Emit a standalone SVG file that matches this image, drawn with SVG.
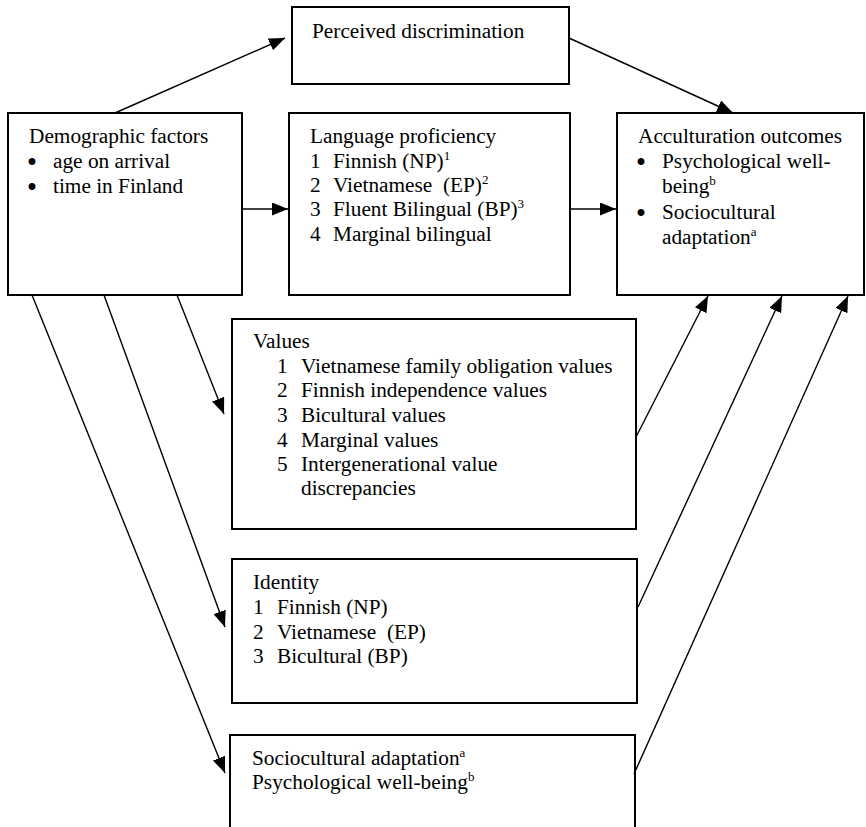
<svg xmlns="http://www.w3.org/2000/svg" width="866" height="827" viewBox="0 0 866 827">
<style>
.box{fill:#fff;stroke:#000;stroke-width:2}
.t{font-family:"Liberation Serif","Times New Roman",serif;font-size:21.3px;fill:#000}
.b{font-family:"Liberation Serif","Times New Roman",serif;font-size:21.3px;fill:#000;stroke:#000;stroke-width:1.8;text-anchor:middle}
.sup{font-size:13px}
.c line{stroke:#000;stroke-width:1.4;marker-end:url(#ah)}
</style>
<defs>
<marker id="ah" markerUnits="userSpaceOnUse" markerWidth="16" markerHeight="13" refX="16" refY="6.5" orient="auto">
<path d="M0,0 L16,6.5 L0,13 Z" fill="#000"/>
</marker>
</defs>
<rect width="866" height="827" fill="#fff"/>
<g id="perceived">
<rect class="box" x="292" y="7" width="277" height="77"/>
<text class="t" x="312" y="38">Perceived discrimination</text>
</g>
<g id="demographic">
<rect class="box" x="8" y="113" width="234" height="182"/>
<text class="t" x="29" y="143">Demographic factors</text>
<text class="b" x="32" y="169">•</text>
<text class="t" x="53" y="168">age on arrival</text>
<text class="b" x="32" y="194">•</text>
<text class="t" x="53" y="193">time in Finland</text>
</g>
<g id="language">
<rect class="box" x="289" y="113" width="281" height="182"/>
<text class="t" x="310" y="143">Language proficiency</text>
<text class="t" x="310" y="168">1</text><text class="t" x="333" y="168">Finnish (NP)<tspan class="sup" dy="-8">1</tspan></text>
<text class="t" x="310" y="192">2</text><text class="t" x="333" y="192" xml:space="preserve">Vietnamese  (EP)<tspan class="sup" dy="-8">2</tspan></text>
<text class="t" x="310" y="216">3</text><text class="t" x="333" y="216">Fluent Bilingual (BP)<tspan class="sup" dy="-8">3</tspan></text>
<text class="t" x="310" y="241">4</text><text class="t" x="333" y="241">Marginal bilingual</text>
</g>
<g id="acculturation">
<rect class="box" x="617" y="113" width="247" height="182"/>
<text class="t" x="638" y="143">Acculturation outcomes</text>
<text class="b" x="641" y="169">•</text>
<text class="t" x="662" y="168">Psychological well-</text>
<text class="t" x="662" y="193">being<tspan class="sup" dy="-8">b</tspan></text>
<text class="b" x="641" y="220">•</text>
<text class="t" x="662" y="219">Sociocultural</text>
<text class="t" x="662" y="244">adaptation<tspan class="sup" dy="-8">a</tspan></text>
</g>
<g id="values">
<rect class="box" x="232" y="319" width="404" height="210"/>
<text class="t" x="253" y="348">Values</text>
<text class="t" x="277" y="373">1</text><text class="t" x="301" y="373">Vietnamese family obligation values</text>
<text class="t" x="277" y="397">2</text><text class="t" x="301" y="397">Finnish independence values</text>
<text class="t" x="277" y="422">3</text><text class="t" x="301" y="422">Bicultural values</text>
<text class="t" x="277" y="447">4</text><text class="t" x="301" y="447">Marginal values</text>
<text class="t" x="277" y="471">5</text><text class="t" x="301" y="471">Intergenerational value</text>
<text class="t" x="301" y="495">discrepancies</text>
</g>
<g id="identity">
<rect class="box" x="232" y="559" width="405" height="144"/>
<text class="t" x="253" y="589">Identity</text>
<text class="t" x="253" y="614">1</text><text class="t" x="277" y="614">Finnish (NP)</text>
<text class="t" x="253" y="639">2</text><text class="t" x="277" y="639" xml:space="preserve">Vietnamese  (EP)</text>
<text class="t" x="253" y="663">3</text><text class="t" x="277" y="663">Bicultural (BP)</text>
</g>
<g id="sociocultural">
<rect class="box" x="230" y="735" width="405" height="130"/>
<text class="t" x="252" y="765">Sociocultural adaptation<tspan class="sup" dy="-8">a</tspan></text>
<text class="t" x="252" y="789">Psychological well-being<tspan class="sup" dy="-8">b</tspan></text>
</g>
<g id="connectors" class="c">
<line x1="115" y1="113" x2="285" y2="38"/>
<line x1="569" y1="38" x2="733" y2="113"/>
<line x1="243" y1="209" x2="288" y2="209"/>
<line x1="571" y1="209" x2="616" y2="209"/>
<line x1="177" y1="295" x2="224" y2="414"/>
<line x1="104" y1="295" x2="225" y2="627"/>
<line x1="32" y1="295" x2="225" y2="773"/>
<line x1="636" y1="437" x2="708" y2="296"/>
<line x1="638" y1="607" x2="782" y2="296"/>
<line x1="634" y1="774" x2="848" y2="296"/>
</g>
</svg>
